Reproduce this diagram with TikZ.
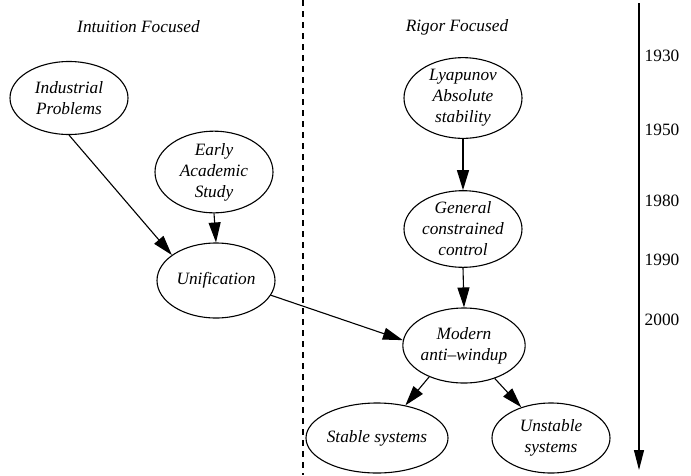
\documentclass[tikz,border=0pt]{standalone}
\usepackage{fontspec}
\setmainfont{Liberation Serif}
\usetikzlibrary{shapes.geometric,arrows.meta}
\tikzset{
  el/.style={draw, ellipse, line width=1.1pt, minimum width=118pt, minimum height=73pt, inner sep=0pt, align=center, font=\fontsize{17.3}{21}\selectfont\itshape},
  conn/.style={line width=1.1pt, -{Triangle[length=20pt,width=12pt]}},
  head/.style={font=\fontsize{17.3}{21}\selectfont\itshape},
  year/.style={font=\fontsize{17.3}{21}\selectfont},
}
\begin{document}
\begin{tikzpicture}[x=1pt,y=-1pt]
\useasboundingbox (0,0) rectangle (691,475);
\node[head] (hl) at (138.5,27) {Intuition Focused};
\node[head] (hr) at (457,27) {Rigor Focused};
\coordinate (dtop) at (303,0);
\coordinate (dbot) at (303,475);
\draw[line width=1.1pt, dash pattern=on 6pt off 5pt] (dtop) -- (dbot);
\coordinate (ttop) at (639,3);
\coordinate (tbot) at (639,470);
\draw[line width=1.1pt, -{Triangle[length=20pt,width=10pt]}] (ttop) -- (tbot);
\node[year] (y1) at (662,56) {1930};
\node[year] (y2) at (662,130) {1950};
\node[year] (y3) at (662,201) {1980};
\node[year] (y4) at (662,260) {1990};
\node[year] (y5) at (662,320) {2000};
\node[el] (ind) at (69,98) {Industrial\\Problems};
\node[el] (early) at (214,172) {Early\\Academic\\Study};
\node[el, minimum height=75pt] (uni) at (216,280.5) {Unification};
\node[el] (lyap) at (463,98) {Lyapunov\\Absolute\\stability};
\node[el] (gen) at (463,229) {General\\constrained\\control};
\node[el, minimum height=75pt] (mod) at (464,345.5) {Modern\\anti\textendash windup};
\node[el, minimum height=70pt] (stab) at (377,438) {Stable systems};
\node[el, minimum height=70pt] (unst) at (551,438) {Unstable\\systems};
\draw[conn] (ind.south) -- (uni.150);
\draw[conn] (early.south) -- (uni.north);
\draw[conn] (uni.-15) -- (mod.175);
\draw[conn] (lyap.south) -- (gen.north);
\draw[conn] (gen.south) -- (mod.north);
\draw[conn] (mod.222) -- (stab.49);
\draw[conn] (mod.313) -- (unst.134);
\end{tikzpicture}
\end{document}
